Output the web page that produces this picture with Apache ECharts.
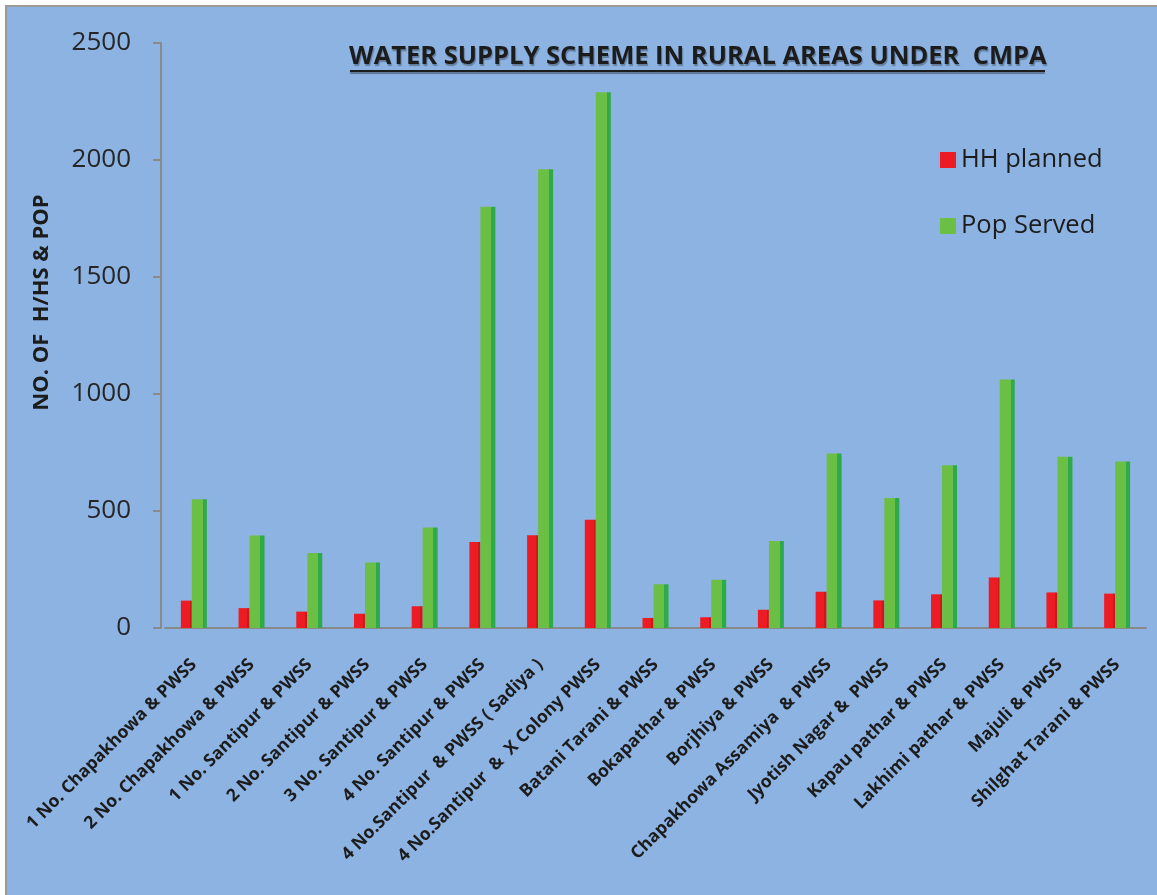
<!DOCTYPE html>
<html>
<head>
<meta charset="utf-8">
<script src="https://cdn.jsdelivr.net/npm/echarts@6/dist/echarts.min.js"></script>
<style>
  html, body { margin: 0; padding: 0; background: #ffffff; }
  #chart { width: 1157px; height: 895px; }
</style>
</head>
<body>
<div id="chart"></div>
<script>
// Schemes (x-axis categories)
const schemes = [
  '1 No. Chapakhowa & PWSS',
  '2 No. Chapakhowa & PWSS',
  '1 No. Santipur & PWSS',
  '2 No. Santipur & PWSS',
  '3 No. Santipur & PWSS',
  '4 No. Santipur & PWSS',
  '4 No.Santipur  & PWSS ( Sadiya )',
  '4 No.Santipur  &  X Colony PWSS',
  'Batani Tarani & PWSS',
  'Bokapathar & PWSS',
  'Borjhiya & PWSS',
  'Chapakhowa Assamiya  & PWSS',
  'Jyotish Nagar &  PWSS',
  'Kapau pathar & PWSS',
  'Lakhimi pathar & PWSS',
  'Majuli & PWSS',
  'Shilghat Tarani & PWSS'
];

// Households planned per scheme
const hhPlanned = [117, 85, 70, 61, 93, 367, 396, 463, 43, 46, 78, 155, 118, 144, 216, 152, 147];

// Population served per scheme
const popServed = [550, 395, 320, 280, 430, 1800, 1960, 2290, 187, 206, 372, 746, 556, 695, 1062, 732, 712];

// Value axis range
const yMin = 0;
const yMax = 2500;
const yStep = 500;

const FONT = "'Open Sans', 'DejaVu Sans', sans-serif";
const TEXT = '#1c1c1c';

// Bars with a darker strip on the right for a slight column look
function columnFill(front, side, split) {
  return new echarts.graphic.LinearGradient(0, 0, 1, 0, [
    { offset: 0, color: front },
    { offset: split, color: front },
    { offset: split, color: side },
    { offset: 1, color: side }
  ]);
}

const chart = echarts.init(document.getElementById('chart'), null, { renderer: 'canvas' });

chart.setOption({
  backgroundColor: '#ffffff',
  animation: false,
  graphic: [
    {
      type: 'rect',
      z: -100,
      silent: true,
      shape: { x: 6, y: 6, width: 1160, height: 900 },
      style: { fill: '#8DB3E2', stroke: '#9a9a9a', lineWidth: 2 }
    },
    {
      type: 'line',
      z: 100,
      silent: true,
      shape: { x1: 350, y1: 71, x2: 1045, y2: 71 },
      style: { stroke: '#1c1c1c', lineWidth: 2, shadowColor: 'rgba(0,0,0,0.35)', shadowOffsetY: 2, shadowBlur: 1 }
    }
  ],
  title: {
    text: 'WATER SUPPLY SCHEME IN RURAL AREAS UNDER  CMPA',
    left: 349,
    top: 44,
    padding: 0,
    textStyle: {
      fontFamily: FONT,
      fontWeight: 'bold',
      fontSize: 25.5,
      color: TEXT,
      textShadowColor: 'rgba(0,0,0,0.3)',
      textShadowOffsetX: 1,
      textShadowOffsetY: 2,
      textShadowBlur: 1
    }
  },
  legend: {
    orient: 'vertical',
    left: 940,
    top: 147,
    padding: 0,
    itemWidth: 16,
    itemHeight: 16,
    itemGap: 40,
    icon: 'rect',
    textStyle: { fontFamily: FONT, fontSize: 25.5, color: TEXT },
    data: [
      { name: 'HH planned', itemStyle: { color: '#ED1C24' } },
      { name: 'Pop Served', itemStyle: { color: '#6CBF45' } }
    ]
  },
  grid: {
    left: 165,
    right: 11,
    top: 43,
    bottom: 267,
    containLabel: false
  },
  xAxis: {
    type: 'category',
    data: schemes,
    axisLine: { show: true, lineStyle: { color: '#8a8a8a', width: 2 } },
    axisTick: { show: false },
    axisLabel: {
      interval: 0,
      rotate: 45,
      margin: 34,
      fontFamily: FONT,
      fontWeight: 'bold',
      fontSize: 17.5,
      color: TEXT
    },
    splitLine: { show: false }
  },
  yAxis: {
    type: 'value',
    min: yMin,
    max: yMax,
    interval: yStep,
    offset: 4,
    name: 'NO. OF  H/HS & POP',
    nameLocation: 'middle',
    nameRotate: 90,
    nameGap: 108,
    nameTextStyle: {
      fontFamily: FONT,
      fontWeight: 'bold',
      fontSize: 22,
      color: TEXT,
      padding: [0, 0, 0, 66]
    },
    axisLine: { show: true, lineStyle: { color: '#8a8a8a', width: 2 } },
    axisTick: { show: true, length: 8, lineStyle: { color: '#8a8a8a', width: 2 } },
    axisLabel: {
      margin: 30,
      fontFamily: FONT,
      fontSize: 26,
      color: '#262626',
      formatter: (v) => String(v)
    },
    splitLine: { show: false }
  },
  series: [
    {
      name: 'HH planned',
      type: 'bar',
      data: hhPlanned,
      barWidth: 11,
      barGap: '0%',
      itemStyle: { color: columnFill('#ED1C24', '#D0161D', 0.8) }
    },
    {
      name: 'Pop Served',
      type: 'bar',
      data: popServed,
      barWidth: 15,
      barGap: '0%',
      itemStyle: { color: columnFill('#6CBF45', '#2FAA4A', 0.72) }
    }
  ]
});
</script>
</body>
</html>
